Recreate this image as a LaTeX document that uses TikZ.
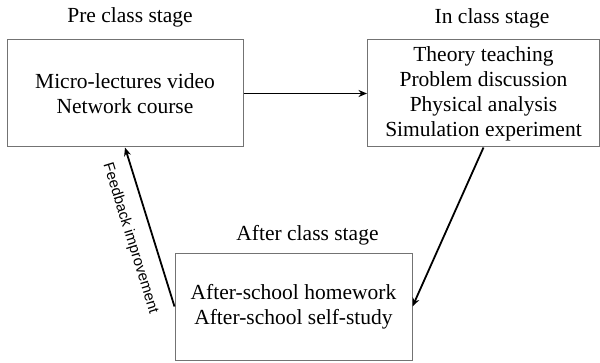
\documentclass[tikz,border=0pt]{standalone}
\usepackage{fontspec}
\setmainfont{Liberation Serif}
\setsansfont{Liberation Sans}
\usetikzlibrary{arrows.meta}

\begin{document}
\begin{tikzpicture}[x=1pt,y=1pt,
  stagebox/.style={draw=black!55,line width=1pt,align=center,font=\fontsize{21.5}{25}\selectfont},
  stagetitle/.style={anchor=base,font=\fontsize{21.5}{25}\selectfont},
  flow/.style={line width=1.8pt,-{Stealth[length=8.5pt,width=7pt]}}]
\useasboundingbox (0,0) rectangle (600,362);
\node[stagebox,minimum width=236,minimum height=107] (pre) at (125,268.5) {Micro-lectures video\\Network course};
\node[stagebox,minimum width=232,minimum height=107] (in) at (483.5,268.5) {Theory teaching\\Problem discussion\\Physical analysis\\Simulation experiment};
\node[stagebox,minimum width=237,minimum height=107] (after) at (293.5,55.5) {After-school homework\\After-school self-study};
\node[stagetitle] (pretitle) at (130,339) {Pre class stage};
\node[stagetitle] (intitle) at (492,338) {In class stage};
\node[stagetitle] (aftertitle) at (307.5,122) {After class stage};
\draw[flow] (pre) -- (in);
\draw[flow] (in.south) -- (after.east);
\draw[flow] (after.west) -- (pre.south) node[sloped,below=13pt,pos=0.47,inner sep=1pt,font=\sffamily\fontsize{15}{17}\selectfont] {Feedback improvement};
\end{tikzpicture}
\end{document}
